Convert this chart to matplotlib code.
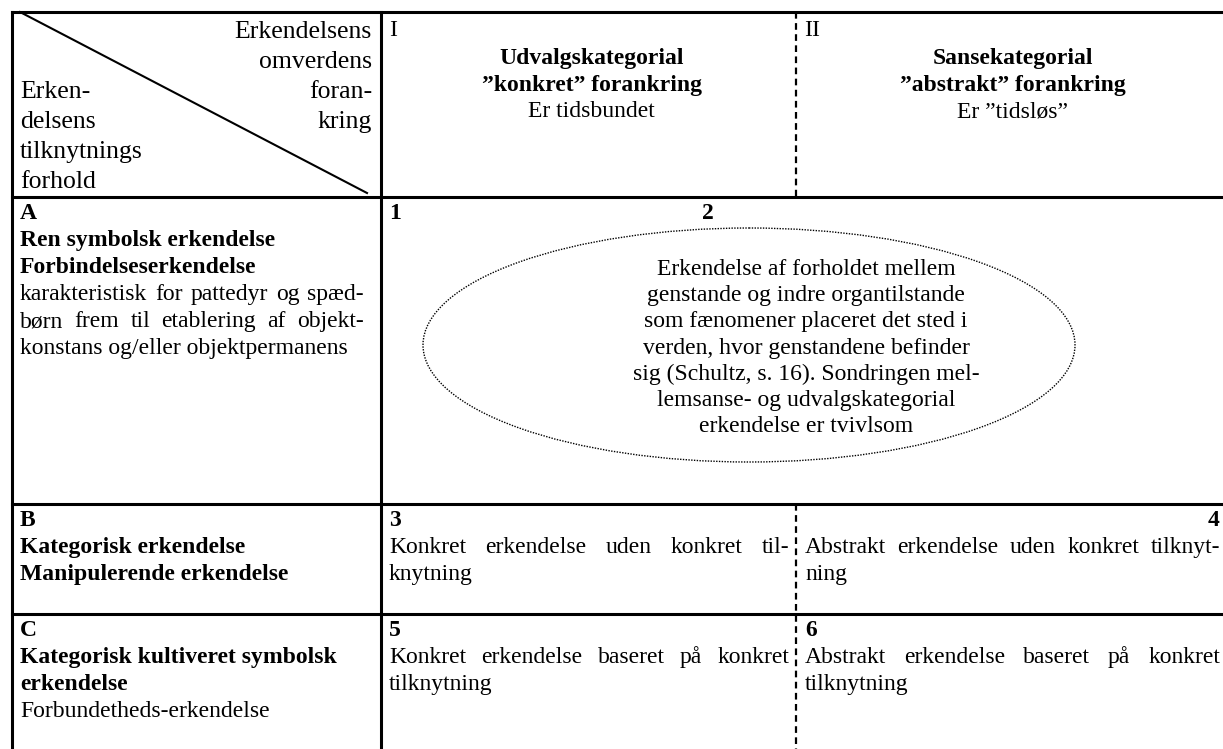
import matplotlib.pyplot as plt
from matplotlib.patches import Ellipse

plt.rcParams['font.family'] = ['Liberation Serif', 'DejaVu Serif']

# header cell (diagonal split)
headRight = ['Erkendelsens', 'omverdens', 'foran-', 'kring']
headLeft = ['Erken-', 'delsens', 'tilknytnings', 'forhold']

# column headers
colNums = ['I', 'II']
colTitles = [['Udvalgskategorial', '\u201dkonkret\u201d forankring'],
             ['Sansekategorial', '\u201dabstrakt\u201d forankring']]
colSubs = ['Er tidsbundet', 'Er \u201dtidsl\u00f8s\u201d']

# row headers
rowLetters = ['A', 'B', 'C']
rowTitles = [['Ren symbolsk erkendelse', 'Forbindelseserkendelse'],
             ['Kategorisk erkendelse', 'Manipulerende erkendelse'],
             ['Kategorisk kultiveret symbolsk', 'erkendelse']]
rowNotes = [['karakteristisk for pattedyr og sp\u00e6d-',
             'b\u00f8rn frem til etablering af objekt-',
             'konstans og/eller objektpermanens'],
            [],
            ['Forbundetheds-erkendelse']]

# cells
cellNums = ['1', '2', '3', '4', '5', '6']
ellipseText = ['Erkendelse af forholdet mellem',
               'genstande og indre organtilstande',
               'som f\u00e6nomener placeret det sted i',
               'verden, hvor genstandene befinder',
               'sig (Schultz, s. 16). Sondringen mel-',
               'lemsanse- og udvalgskategorial',
               'erkendelse er tvivlsom']
cellText = {
    '3': ['Konkret erkendelse uden konkret til-', 'knytning'],
    '4': ['Abstrakt erkendelse uden konkret tilknyt-', 'ning'],
    '5': ['Konkret erkendelse baseret p\u00e5 konkret', 'tilknytning'],
    '6': ['Abstrakt erkendelse baseret p\u00e5 konkret', 'tilknytning'],
}

W, H = 1223, 749
fig = plt.figure(figsize=(W / 100, H / 100), dpi=100)
ax = fig.add_axes([0, 0, 1, 1])
ax.set_xlim(0, W)
ax.set_ylim(H, 0)
ax.axis('off')
renderer = fig.canvas.get_renderer()

fs = 17
lw = 2.2

# grid positions (pixels)
xL, xC, xD, xR = 12, 381, 796, W
yT, y1, y2, y3, yB = 12, 197, 504, 614, H


def justify(line, x0, x1, y, size=fs, weight='normal'):
    words = line.split(' ')
    ts = [ax.text(0, y, w, fontsize=size, fontweight=weight, va='baseline')
          for w in words]
    ws = [t.get_window_extent(renderer).width for t in ts]
    gap = (x1 - x0 - sum(ws)) / max(len(words) - 1, 1)
    x = x0
    for t, w in zip(ts, ws):
        t.set_x(x)
        x += w + gap


# table lines
ax.plot([xL, xR], [yT, yT], color='black', lw=lw)
for y in [y1, y2, y3]:
    ax.plot([xL, xR], [y, y], color='black', lw=lw)
ax.plot([xL, xL], [yT, yB], color='black', lw=lw)
ax.plot([xC, xC], [yT, yB], color='black', lw=lw)
ax.plot([xD, xD], [yT, y1], color='black', lw=1.6, ls=(0, (3, 2)))
ax.plot([xD, xD], [y2, yB], color='black', lw=1.6, ls=(0, (3, 2)))
ax.plot([20, 367], [yT, 193], color='black', lw=1.5)

# header cell text
hs = 18.5
for i, s in enumerate(headRight):
    ax.text(372, 38 + 30 * i, s, fontsize=hs, ha='right', va='baseline')
for i, s in enumerate(headLeft):
    ax.text(20, 98 + 30 * i, s, fontsize=hs, ha='left', va='baseline')

# column headers
for j, (x0, x1) in enumerate([(xC, xD), (xD, W)]):
    ax.text(x0 + 8, 36, colNums[j], fontsize=fs, va='baseline')
    cx = (x0 + x1) / 2 + 3
    for i, s in enumerate(colTitles[j]):
        ax.text(cx, 64 + 27 * i, s, fontsize=fs, fontweight='bold',
                ha='center', va='baseline')
    ax.text(cx, 117, colSubs[j], fontsize=fs, ha='center', va='baseline')

# row headers
for r, yTop in enumerate([y1, y2, y3]):
    yb = yTop + 22
    ax.text(20, yb, rowLetters[r], fontsize=fs, fontweight='bold', va='baseline')
    for s in rowTitles[r]:
        yb += 27
        ax.text(20, yb, s, fontsize=fs, fontweight='bold', va='baseline')
    for k, s in enumerate(rowNotes[r]):
        yb += 27
        if len(rowNotes[r]) > 1 and k < len(rowNotes[r]) - 1:
            justify(s, 20, 364, yb)
        else:
            ax.text(20, yb, s, fontsize=fs, va='baseline')

# row A: merged cell with ellipse
ax.text(xC + 8, y1 + 22, cellNums[0], fontsize=fs, fontweight='bold', va='baseline')
ax.text(708, y1 + 22, cellNums[1], fontsize=fs, fontweight='bold',
        ha='center', va='baseline')
ax.add_patch(Ellipse((749, 345), 652, 234, fill=False, ec='black',
                     lw=1.0, ls=(0, (1, 1))))
for i, s in enumerate(ellipseText):
    ax.text(806, 275 + 26.2 * i, s, fontsize=fs, ha='center', va='baseline')

# rows B and C
for n, yTop in zip(['3', '4', '5', '6'], [y2, y2, y3, y3]):
    left = n in ('3', '5')
    x0, x1 = (xC + 8, xD - 7) if left else (xD + 9, W - 3)
    if n == '4':
        ax.text(x1, yTop + 22, n, fontsize=fs, fontweight='bold',
                ha='right', va='baseline')
    else:
        ax.text(x0, yTop + 22, n, fontsize=fs, fontweight='bold', va='baseline')
    lines = cellText[n]
    justify(lines[0], x0, x1, yTop + 49)
    ax.text(x0, yTop + 76, lines[1], fontsize=fs, va='baseline')

plt.savefig('out.png', dpi=100)
